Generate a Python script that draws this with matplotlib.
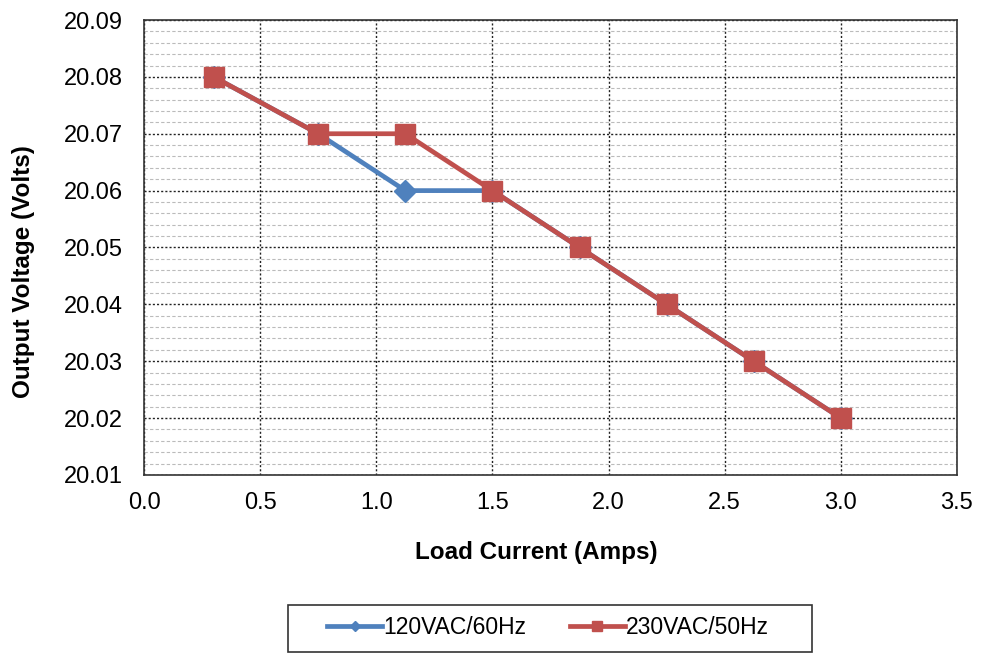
import numpy as np
import matplotlib.pyplot as plt
from matplotlib.ticker import MultipleLocator, FixedLocator
from matplotlib.patches import Rectangle

plt.rcParams['font.family'] = ['Liberation Sans', 'DejaVu Sans']

# Dados
corrente = [0.3, 0.75, 1.125, 1.5, 1.875, 2.25, 2.625, 3.0]
v_120 = [20.08, 20.07, 20.06, 20.06, 20.05, 20.04, 20.03, 20.02]
v_230 = [20.08, 20.07, 20.07, 20.06, 20.05, 20.04, 20.03, 20.02]

fig = plt.figure(figsize=(9.83, 6.56), dpi=100)
ax = fig.add_axes([0.1465, 0.276, 0.827, 0.6935])

ax.plot(corrente, v_120, color='#4F81BD', lw=3.4, marker='D', markersize=11,
        label='120VAC/60Hz')
ax.plot(corrente, v_230, color='#C0504D', lw=3.4, marker='s', markersize=15,
        label='230VAC/50Hz')

ax.set_xlim(0, 3.5)
ax.set_ylim(20.01, 20.09)
ax.xaxis.set_major_locator(MultipleLocator(0.5))
ax.yaxis.set_major_locator(MultipleLocator(0.01))
menores = [20.01 + 0.002 * i for i in range(41) if i % 5 != 0]
ax.yaxis.set_minor_locator(FixedLocator(menores))
ax.xaxis.set_major_formatter(plt.FormatStrFormatter('%.1f'))
ax.yaxis.set_major_formatter(plt.FormatStrFormatter('%.2f'))

ax.grid(True, which='major', color='#222222', linestyle=(0, (1.5, 1.5)), lw=1.0)
ax.grid(True, which='minor', axis='y', color='#bbbbbb', linestyle=(0, (3, 2)), lw=0.8)
ax.set_axisbelow(True)
ax.tick_params(which='both', length=0, labelsize=17)
ax.tick_params(axis='y', pad=15)
ax.tick_params(axis='x', pad=12)
for s in ax.spines.values():
    s.set_color('#333333')
    s.set_linewidth(1.2)

ax.set_xlabel('Load Current (Amps)', fontsize=17.5, fontweight='bold', va='center')
ax.set_ylabel('Output Voltage (Volts)', fontsize=17.5, fontweight='bold', va='center')
ax.xaxis.set_label_coords(0.483, -0.171)
ax.yaxis.set_label_coords(-0.148, 0.446)

# Moldura da legenda, como no Excel
fig.patches.append(Rectangle((288 / 983, 1 - 652 / 656), 524 / 983, 47 / 656,
                             transform=fig.transFigure, fill=False,
                             edgecolor='#333333', lw=1.2))
leg = fig.legend(loc='center', bbox_to_anchor=(548 / 983, 1 - 628 / 656), ncol=2,
                 fontsize=16.5, frameon=False,
                 handlelength=2.4, handletextpad=0.05, columnspacing=1.9,
                 borderpad=0.3, markerscale=0.5)

plt.savefig('out.png', dpi=100)
